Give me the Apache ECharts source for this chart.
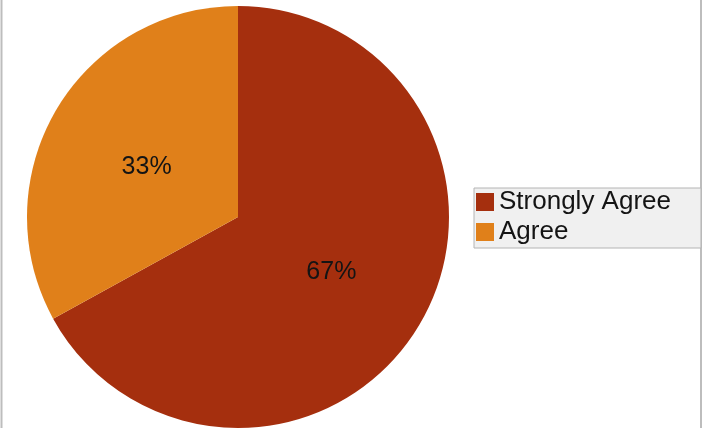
<!DOCTYPE html>
<html>
<head>
<meta charset="utf-8">
<script src="https://cdn.jsdelivr.net/npm/echarts@6/dist/echarts.min.js"></script>
<style>
html,body{margin:0;padding:0;background:#fff;}
#main{width:705px;height:428px;}
</style>
</head>
<body>
<div id="main"></div>
<script>
var categories = ['Strongly Agree', 'Agree'];
var values = [67, 33];
var colors = ['#A52F0E', '#E0801A'];

var chart = echarts.init(document.getElementById('main'), null, {renderer: 'canvas'});
var data = categories.map(function (c, i) {
  var d = { name: c, value: values[i], itemStyle: { color: colors[i] } };
  if (i === 1) { d.label = { offset: [2, 5] }; }
  return d;
});
chart.setOption({
  animation: false,
  backgroundColor: '#ffffff',
  legend: {
    orient: 'vertical',
    left: 474,
    top: 188,
    padding: [1, 30, 3, 2],
    itemWidth: 18,
    itemHeight: 18,
    itemGap: 4,
    icon: 'rect',
    backgroundColor: '#f0f0f0',
    borderColor: '#b4b4b4',
    borderWidth: 1,
    borderRadius: 0,
    textStyle: { fontFamily: 'Liberation Sans, Arial, sans-serif', fontSize: 26, color: '#141414', padding: [0, 0, 0, 0], lineHeight: 24 },
    data: categories
  },
  graphic: [
    { type: 'line', shape: { x1: 1.5, y1: 0, x2: 1.5, y2: 428 }, style: { stroke: '#bdbdbd', lineWidth: 2 } },
    { type: 'line', shape: { x1: 701, y1: 0, x2: 701, y2: 428 }, style: { stroke: '#bdbdbd', lineWidth: 2 } }
  ],
  series: [{
    type: 'pie',
    center: [238, 217],
    radius: [0, 211],
    startAngle: 90,
    clockwise: true,
    data: data,
    label: {
      show: true,
      position: 'inner',
      formatter: function (p) { return Math.round(p.percent) + '%'; },
      fontFamily: 'Liberation Sans, Arial, sans-serif',
      fontSize: 25,
      color: '#141414'
    },
    labelLine: { show: false },
    itemStyle: { borderWidth: 0 },
    emphasis: { disabled: true }
  }]
});
</script>
</body>
</html>
